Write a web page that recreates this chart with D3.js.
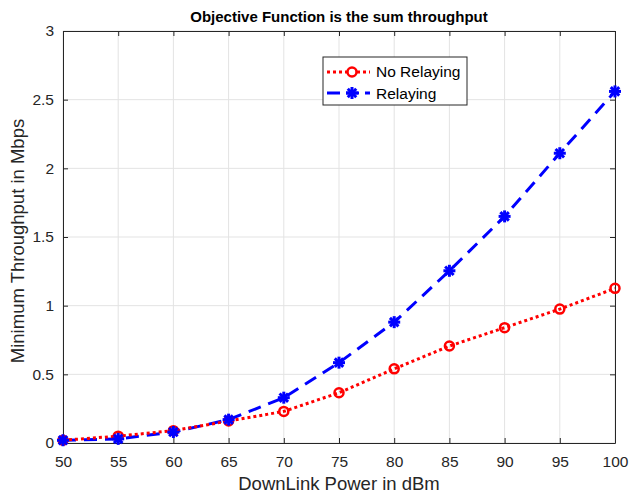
<!DOCTYPE html>
<html>
<head>
<meta charset="utf-8">
<script src="https://cdn.jsdelivr.net/npm/d3@7"></script>
<style>
body { margin: 0; background: #fff; }
text { font-family: "Liberation Sans", Arial, sans-serif; fill: #262626; }
</style>
</head>
<body>
<div id="chart"></div>
<script>
var powers = [50, 55, 60, 65, 70, 75, 80, 85, 90, 95, 100]
var noRelaying = [0.02, 0.05, 0.09, 0.16, 0.23, 0.366, 0.54, 0.706, 0.84, 0.975, 1.126]
var relaying = [0.02, 0.03, 0.08, 0.17, 0.33, 0.585, 0.88, 1.254, 1.65, 2.11, 2.56]
var xTicks = [50, 55, 60, 65, 70, 75, 80, 85, 90, 95, 100]
var yTicks = [0, 0.5, 1, 1.5, 2, 2.5, 3]

var W = 629, H = 494
var margin = {top: 31, right: 14, bottom: 51, left: 63},
width = W - margin.left - margin.right,
height = H - margin.top - margin.bottom;

var svg = d3.select("#chart")
.append("svg")
.attr("width", W)
.attr("height", H)
.append("g")
.attr("transform", "translate(" + margin.left + "," + margin.top + ")")

var x = d3.scaleLinear().domain([50, 100]).range([0, width])
var y = d3.scaleLinear().domain([0, 3]).range([height, 0])

// grid
svg.selectAll(".gx").data(xTicks).enter().append("line")
.attr("x1", d => x(d)).attr("x2", d => x(d))
.attr("y1", 0).attr("y2", height)
.style("stroke", "#e3e3e3").style("stroke-width", 1)
svg.selectAll(".gy").data(yTicks).enter().append("line")
.attr("y1", d => y(d)).attr("y2", d => y(d))
.attr("x1", 0).attr("x2", width)
.style("stroke", "#e3e3e3").style("stroke-width", 1)

// axes
var fmt = d => String(d)
svg.append("g").attr("transform", "translate(0," + height + ")")
.call(d3.axisBottom(x).tickValues(xTicks).tickFormat(fmt).tickSizeInner(-5).tickSizeOuter(0).tickPadding(13))
svg.append("g")
.call(d3.axisLeft(y).tickValues(yTicks).tickFormat(fmt).tickSizeInner(-5).tickSizeOuter(0).tickPadding(9))
svg.append("g")
.call(d3.axisTop(x).tickValues(xTicks).tickFormat("").tickSizeInner(-5).tickSizeOuter(0))
svg.append("g").attr("transform", "translate(" + width + ",0)")
.call(d3.axisRight(y).tickValues(yTicks).tickFormat("").tickSizeInner(-5).tickSizeOuter(0))
svg.selectAll(".domain").style("stroke", "#262626")
svg.selectAll(".tick line").style("stroke", "#262626")
svg.selectAll(".tick text").style("font-size", "15.5px").style("fill", "#262626")
.style("font-family", "'Liberation Sans', Arial, sans-serif")

// lines
var line = d3.line().x((d, i) => x(powers[i])).y(d => y(d))
svg.append("path").datum(relaying).attr("d", line)
.style("fill", "none").style("stroke", "#0000ff").style("stroke-width", 3)
.style("stroke-dasharray", "13,8")
svg.append("path").datum(noRelaying).attr("d", line)
.style("fill", "none").style("stroke", "#ff0000").style("stroke-width", 3)
.style("stroke-dasharray", "3,3")

function star(g, cx, cy, r) {
    [0, 45, 90, 135].forEach(function(a) {
        var rad = a * Math.PI / 180
        g.append("line")
        .attr("x1", cx - r * Math.cos(rad)).attr("y1", cy - r * Math.sin(rad))
        .attr("x2", cx + r * Math.cos(rad)).attr("y2", cy + r * Math.sin(rad))
        .style("stroke", "#0000ff").style("stroke-width", 3)
    })
}

svg.selectAll(".mr").data(noRelaying).enter().append("circle")
.attr("cx", (d, i) => x(powers[i])).attr("cy", d => y(d)).attr("r", 4.5)
.style("fill", "none").style("stroke", "#ff0000").style("stroke-width", 2.5)
var stars = svg.append("g")
relaying.forEach(function(d, i) { star(stars, x(powers[i]), y(d), 6) })

// title and labels
svg.append("text").attr("x", width / 2).attr("y", -9)
.attr("text-anchor", "middle").style("font-size", "15px").style("font-weight", "bold")
.style("fill", "#000").text("Objective Function is the sum throughput")
svg.append("text").attr("x", width / 2).attr("y", height + 47)
.attr("text-anchor", "middle").style("font-size", "18.5px")
.text("DownLink Power in dBm")
svg.append("text").attr("transform", "translate(" + (-39) + "," + (height / 2 + 4) + ") rotate(-90)")
.attr("text-anchor", "middle").style("font-size", "18.5px")
.text("Minimum Throughput in Mbps")

// legend
var lg = svg.append("g").attr("transform", "translate(" + (323 - margin.left) + "," + (57 - margin.top) + ")")
lg.append("rect").attr("width", 144).attr("height", 48)
.style("fill", "#fff").style("stroke", "#262626").style("stroke-width", 1)
lg.append("line").attr("x1", 4).attr("x2", 47).attr("y1", 15).attr("y2", 15)
.style("stroke", "#ff0000").style("stroke-width", 3).style("stroke-dasharray", "3,3")
lg.append("circle").attr("cx", 29).attr("cy", 15).attr("r", 4.5)
.style("fill", "#fff").style("stroke", "#ff0000").style("stroke-width", 2.5)
lg.append("line").attr("x1", 4).attr("x2", 47).attr("y1", 36).attr("y2", 36)
.style("stroke", "#0000ff").style("stroke-width", 3).style("stroke-dasharray", "13,6")
star(lg, 29, 36, 6)
lg.append("text").attr("x", 53).attr("y", 20).style("font-size", "15.5px").style("fill", "#000").text("No Relaying")
lg.append("text").attr("x", 53).attr("y", 42).style("font-size", "15.5px").style("fill", "#000").text("Relaying")
</script>
</body>
</html>
